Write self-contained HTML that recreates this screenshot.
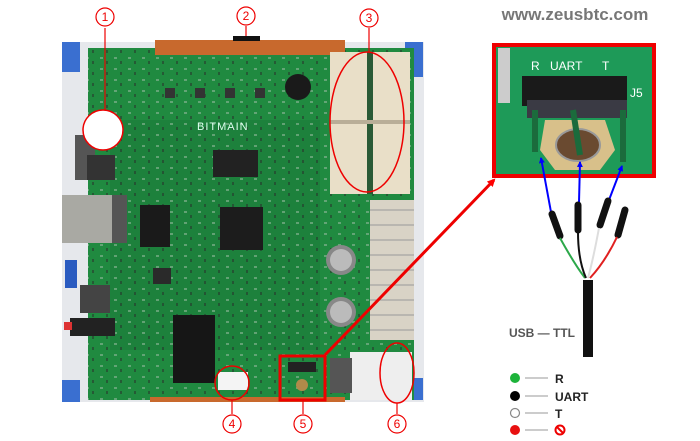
<!DOCTYPE html>
<html><head><meta charset="utf-8"><style>
html,body{margin:0;padding:0;background:#fff;}
svg{display:block}
text{font-family:"Liberation Sans",sans-serif}
</style></head><body>
<svg width="700" height="441" viewBox="0 0 700 441" xmlns="http://www.w3.org/2000/svg">
<defs>
<marker id="ah" markerWidth="8" markerHeight="8" refX="6" refY="4" orient="auto" markerUnits="userSpaceOnUse"><path d="M0,0 L8,4 L0,8 z" fill="#f00"/></marker>
<marker id="bh" markerWidth="6" markerHeight="6" refX="5" refY="3" orient="auto" markerUnits="userSpaceOnUse"><path d="M0,0 L6,3 L0,6 z" fill="#00f"/></marker>
<pattern id="smd" width="14" height="11" patternUnits="userSpaceOnUse">
<rect x="2" y="2" width="3" height="2" fill="#8fb89a" opacity="0.6"/>
<rect x="8" y="6" width="2" height="3" fill="#2a2a2a" opacity="0.5"/>
</pattern>
</defs>
<rect x="62" y="42" width="362" height="360" fill="#e6e8ec"/>
<rect x="62" y="42" width="18" height="30" fill="#3a6fd0"/>
<rect x="405" y="42" width="18" height="35" fill="#3a6fd0"/>
<rect x="62" y="380" width="18" height="22" fill="#3a6fd0"/>
<rect x="405" y="378" width="18" height="22" fill="#3a6fd0"/>
<rect x="88" y="48" width="326" height="352" fill="#208a40"/>
<rect x="110" y="120" width="210" height="230" fill="#1d7e3a" opacity="0.7"/>
<rect x="88" y="48" width="326" height="352" fill="url(#smd)"/>
<rect x="155" y="40" width="190" height="15" fill="#c8692d"/>
<rect x="233" y="36" width="27" height="5" fill="#111"/>
<rect x="62" y="195" width="55" height="48" fill="#a9a9a3"/>
<rect x="112" y="195" width="15" height="48" fill="#555"/>
<rect x="75" y="135" width="20" height="45" fill="#555"/>
<rect x="87" y="155" width="28" height="25" fill="#333"/>
<rect x="80" y="285" width="30" height="28" fill="#444"/>
<rect x="70" y="318" width="45" height="18" fill="#222"/>
<rect x="64" y="322" width="8" height="8" fill="#d33"/>
<rect x="65" y="260" width="12" height="28" fill="#2a5bc0"/>
<rect x="213" y="150" width="45" height="27" fill="#222"/>
<rect x="220" y="207" width="43" height="43" fill="#1c1c1c"/>
<rect x="140" y="205" width="30" height="42" fill="#1a1a1a"/>
<rect x="173" y="315" width="42" height="68" fill="#161616"/>
<rect x="153" y="268" width="18" height="16" fill="#2a2a2a"/>
<text x="197" y="130" font-size="11" fill="#dfe" letter-spacing="1">BITMAIN</text>
<circle cx="298" cy="87" r="13" fill="#1a1a1a"/>
<circle cx="341" cy="260" r="15" fill="#888"/><circle cx="341" cy="260" r="11" fill="#bbb"/>
<circle cx="341" cy="312" r="15" fill="#888"/><circle cx="341" cy="312" r="11" fill="#bbb"/>
<g fill="#333"><rect x="165" y="88" width="10" height="10"/><rect x="195" y="88" width="10" height="10"/><rect x="225" y="88" width="10" height="10"/><rect x="255" y="88" width="10" height="10"/></g>
<rect x="330" y="52" width="80" height="142" fill="#e9dfc8"/>
<rect x="367" y="52" width="6" height="142" fill="#2a5a36"/>
<rect x="330" y="120" width="80" height="4" fill="#b9ae98"/>
<rect x="370" y="200" width="44" height="140" fill="#d9d3c6"/>
<g stroke="#999" stroke-width="1">
<line x1="370" y1="210" x2="414" y2="210"/><line x1="370" y1="225" x2="414" y2="225"/><line x1="370" y1="240" x2="414" y2="240"/><line x1="370" y1="255" x2="414" y2="255"/><line x1="370" y1="270" x2="414" y2="270"/><line x1="370" y1="285" x2="414" y2="285"/><line x1="370" y1="300" x2="414" y2="300"/><line x1="370" y1="315" x2="414" y2="315"/><line x1="370" y1="330" x2="414" y2="330"/>
</g>
<rect x="350" y="352" width="62" height="48" fill="#eee"/>
<rect x="330" y="358" width="22" height="35" fill="#555"/>
<rect x="218" y="372" width="30" height="18" fill="#f4f4f4"/>
<rect x="150" y="397" width="195" height="5" fill="#c8692d"/>
<rect x="288" y="362" width="28" height="10" fill="#222"/>
<circle cx="302" cy="385" r="6" fill="#b08a4a"/>
<circle cx="103" cy="130" r="20" fill="#fff" stroke="#e00" stroke-width="1.5"/>
<line x1="105" y1="28" x2="105" y2="110" stroke="#e00" stroke-width="1.2"/>
<line x1="246" y1="26" x2="246" y2="36" stroke="#e00" stroke-width="1.2"/>
<line x1="369" y1="28" x2="369" y2="52" stroke="#e00" stroke-width="1.2"/>
<ellipse cx="367" cy="122" rx="37" ry="70" fill="none" stroke="#e00" stroke-width="1.5"/>
<ellipse cx="232" cy="383" rx="17" ry="17" fill="none" stroke="#e00" stroke-width="1.5"/>
<rect x="280" y="356" width="45" height="44" fill="none" stroke="#e00" stroke-width="3"/>
<ellipse cx="397" cy="373" rx="17" ry="30" fill="none" stroke="#e00" stroke-width="1.5"/>
<line x1="232" y1="400" x2="232" y2="414" stroke="#e00" stroke-width="1.2"/>
<line x1="303" y1="400" x2="303" y2="414" stroke="#e00" stroke-width="1.2"/>
<line x1="397" y1="403" x2="397" y2="414" stroke="#e00" stroke-width="1.2"/>
<g fill="none" stroke="#e00" stroke-width="1.2">
<circle cx="105" cy="17" r="9"/><circle cx="246" cy="16" r="9"/><circle cx="369" cy="18" r="9"/>
<circle cx="232" cy="424" r="9"/><circle cx="303" cy="424" r="9"/><circle cx="397" cy="424" r="9"/>
</g>
<g font-size="12" fill="#e00" text-anchor="middle">
<text x="105" y="21">1</text><text x="246" y="20">2</text><text x="369" y="22">3</text>
<text x="232" y="428">4</text><text x="303" y="428">5</text><text x="397" y="428">6</text>
</g>
<line x1="325" y1="355" x2="494" y2="180" stroke="#e00" stroke-width="3" marker-end="url(#ah)"/>
<text x="575" y="20" font-size="17" font-weight="bold" fill="#777" text-anchor="middle">www.zeusbtc.com</text>
<rect x="494" y="45" width="160" height="131" fill="#1e9a58" stroke="#e00" stroke-width="4"/>
<rect x="498" y="48" width="12" height="55" fill="#ccc"/>
<text x="531" y="70" font-size="12" fill="#fff">R</text>
<text x="550" y="70" font-size="12" fill="#fff">UART</text>
<text x="602" y="70" font-size="12" fill="#fff">T</text>
<text x="630" y="97" font-size="12" fill="#fff">J5</text>
<rect x="522" y="76" width="105" height="30" fill="#1a1a1a"/>
<rect x="527" y="100" width="100" height="18" fill="#3a3a44"/>
<path d="M545 120 L605 120 L615 150 L600 170 L555 170 L540 150 z" fill="#d8c08a"/>
<ellipse cx="578" cy="145" rx="22" ry="16" fill="#6a4a30" stroke="#999" stroke-width="2"/>
<rect x="532" y="110" width="6" height="42" fill="#1b6b3c"/>
<rect x="620" y="110" width="6" height="52" fill="#1b6b3c"/>
<line x1="573" y1="110" x2="580" y2="155" stroke="#1b6b3c" stroke-width="6"/>
<g stroke="#00f" stroke-width="2">
<line x1="551" y1="212" x2="541" y2="158" marker-end="url(#bh)"/>
<line x1="579" y1="202" x2="580" y2="162" marker-end="url(#bh)"/>
<line x1="609" y1="200" x2="622" y2="166" marker-end="url(#bh)"/>
</g>
<g stroke="#111" stroke-width="7" stroke-linecap="round">
<line x1="552" y1="214" x2="560" y2="236"/>
<line x1="578" y1="205" x2="578" y2="230"/>
<line x1="608" y1="201" x2="600" y2="225"/>
<line x1="625" y1="210" x2="618" y2="235"/>
</g>
<g fill="none" stroke-width="2">
<path d="M560 238 Q575 265 585 278" stroke="#2ca84a"/>
<path d="M578 232 Q578 260 586 278" stroke="#111"/>
<path d="M599 228 Q593 260 588 278" stroke="#ddd"/>
<path d="M617 237 Q605 262 590 278" stroke="#e02020"/>
</g>
<rect x="583" y="280" width="10" height="77" fill="#111"/>
<text x="509" y="337" font-size="12" font-weight="bold" fill="#555">USB — TTL</text>
<circle cx="515" cy="378" r="5" fill="#1db33a"/>
<circle cx="515" cy="396" r="5" fill="#000"/>
<circle cx="515" cy="413" r="4.5" fill="#fff" stroke="#888" stroke-width="1.2"/>
<circle cx="515" cy="430" r="5" fill="#e81010"/>
<g stroke="#999" stroke-width="1"><line x1="525" y1="378" x2="548" y2="378"/><line x1="525" y1="396" x2="548" y2="396"/><line x1="525" y1="413" x2="548" y2="413"/><line x1="525" y1="430" x2="548" y2="430"/></g>
<g font-size="12" font-weight="bold" fill="#222">
<text x="555" y="383">R</text><text x="555" y="401">UART</text><text x="555" y="418">T</text>
</g>
<circle cx="560" cy="430" r="4.5" fill="none" stroke="#e00" stroke-width="2"/>
<line x1="557" y1="427" x2="563" y2="433" stroke="#e00" stroke-width="2"/>
</svg>
</body></html>
